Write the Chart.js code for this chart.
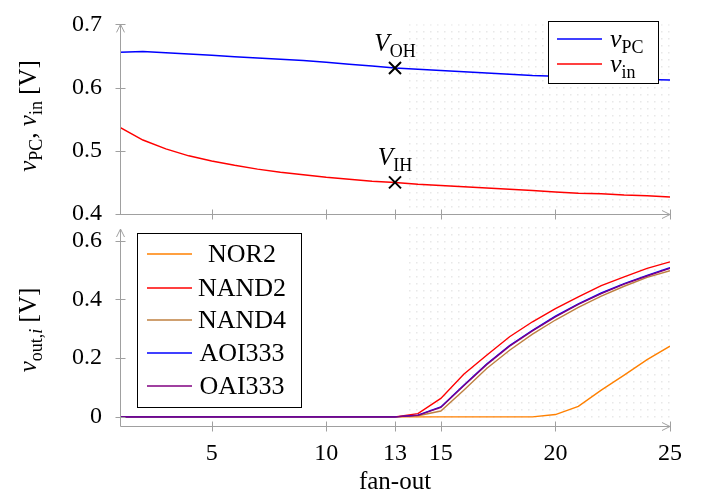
<!DOCTYPE html>
<html>
<head>
<meta charset="utf-8">
<script src="https://cdn.jsdelivr.net/npm/chart.js@4.4.0/dist/chart.umd.min.js"></script>
<style>
  html, body { margin: 0; padding: 0; background: #fff; }
  #wrap { position: relative; width: 702px; height: 498px; }
  #wrap canvas { position: absolute; left: 0; top: 0; }
</style>
</head>
<body>
<div id="wrap">
  <canvas id="bottomChart" width="702" height="498"></canvas>
  <canvas id="topChart" width="702" height="498"></canvas>
</div>
<script>
// Datos
const fanOut = [1, 2, 3, 4, 5, 6, 7, 8, 9, 10, 11, 12, 13, 14, 15, 16, 17, 18, 19, 20, 21, 22, 23, 24, 25];

const vPC = [0.656, 0.657, 0.655, 0.653, 0.651, 0.649, 0.647, 0.645, 0.643, 0.640, 0.637, 0.634, 0.631,
             0.629, 0.627, 0.625, 0.623, 0.621, 0.619, 0.618, 0.617, 0.616, 0.614, 0.613, 0.612];
const vIn = [0.537, 0.517, 0.503, 0.492, 0.484, 0.477, 0.471, 0.466, 0.462, 0.458, 0.455, 0.452, 0.450,
             0.447, 0.445, 0.443, 0.441, 0.439, 0.437, 0.435, 0.433, 0.432, 0.430, 0.429, 0.427];

const nor2   = [0, 0, 0, 0, 0, 0, 0, 0, 0, 0, 0, 0, 0, 0, 0, 0, 0, 0, 0, 0.008, 0.036, 0.091, 0.142, 0.195, 0.241];
const nand2  = [0, 0, 0, 0, 0, 0, 0, 0, 0, 0, 0, 0, 0, 0.011, 0.063, 0.145, 0.210, 0.273, 0.324, 0.369, 0.409, 0.447, 0.477, 0.506, 0.528];
const nand4  = [0, 0, 0, 0, 0, 0, 0, 0, 0, 0, 0, 0, 0, 0.004, 0.020, 0.091, 0.165, 0.227, 0.282, 0.330, 0.373, 0.411, 0.445, 0.475, 0.498];
const aoi333 = [0, 0, 0, 0, 0, 0, 0, 0, 0, 0, 0, 0, 0, 0.006, 0.034, 0.108, 0.180, 0.243, 0.295, 0.343, 0.385, 0.422, 0.454, 0.482, 0.508];
const oai333 = [0, 0, 0, 0, 0, 0, 0, 0, 0, 0, 0, 0, 0, 0.005, 0.032, 0.106, 0.178, 0.241, 0.293, 0.341, 0.383, 0.420, 0.452, 0.480, 0.506];

// Ejes y marcas
const xTicks = [5, 10, 13, 15, 20, 25];
const xTickLabels = ['5', '10', '13', '15', '20', '25'];
const yTopTicks = [0.4, 0.5, 0.6, 0.7];
const yTopTickLabels = ['0.4', '0.5', '0.6', '0.7'];
const yBottomTicks = [0, 0.2, 0.4, 0.6];
const yBottomTickLabels = ['0', '0.2', '0.4', '0.6'];

// Punto marcado (fan-out = 13) y zona sombreada
const markFanOut = 13;
const markSubs = ['OH', 'IH'];
const shadeFrom = 13.5;
const shadeTo = 25;

const SERIF = "'Liberation Serif', 'Times New Roman', serif";
const AXIS_COLOR = '#a0a0a0';

Chart.defaults.font.family = SERIF;
Chart.defaults.color = '#000';

function toPoints(values) {
    return fanOut.map((f, i) => ({ x: f, y: values[i] }));
}

// Patrón de puntos para la zona sombreada
function makeDotPattern(ctx) {
    const c = document.createElement('canvas');
    c.width = 7; c.height = 7;
    const g = c.getContext('2d');
    g.fillStyle = '#e8e8e8';
    g.fillRect(3, 3, 1.5, 1.5);
    return ctx.createPattern(c, 'repeat');
}

// Texto con subíndices: parts = [[texto, estilo]], estilo: 'r', 'i', 's' (sub), 'si' (sub itálica)
function partFont(style, size) {
    const sub = style === 's' || style === 'si';
    const italic = style === 'i' || style === 'si';
    const px = sub ? Math.round(size * 0.7) : size;
    return (italic ? 'italic ' : '') + px + 'px ' + SERIF;
}
function richWidth(ctx, parts, size) {
    let w = 0;
    parts.forEach(([t, s]) => { ctx.font = partFont(s, size); w += ctx.measureText(t).width; });
    return w;
}
function drawRich(ctx, parts, x, y, size) {
    ctx.textBaseline = 'alphabetic';
    ctx.textAlign = 'left';
    let cx = x;
    parts.forEach(([t, s]) => {
        ctx.font = partFont(s, size);
        const dy = (s === 's' || s === 'si') ? size * 0.22 : 0;
        ctx.fillText(t, cx, y + dy);
        cx += ctx.measureText(t).width;
    });
}

// Dibuja ejes con flechas y marcas que cruzan el eje
function axesPlugin(yTickValues) {
    return {
        id: 'axes',
        afterDraw(chart) {
            const { ctx, chartArea: a, scales } = chart;
            const L = Math.round(a.left) + 0.5;
            const B = Math.round(a.bottom) + 0.5;
            ctx.save();
            ctx.strokeStyle = AXIS_COLOR;
            ctx.lineWidth = 1;
            ctx.beginPath();
            ctx.moveTo(L, B); ctx.lineTo(a.right, B);
            ctx.moveTo(L, B); ctx.lineTo(L, a.top);
            xTicks.forEach(v => {
                const px = Math.round(scales.x.getPixelForValue(v)) + 0.5;
                ctx.moveTo(px, B - 5); ctx.lineTo(px, B + 5);
            });
            yTickValues.forEach(v => {
                const py = Math.round(scales.y.getPixelForValue(v)) + 0.5;
                ctx.moveTo(L - 5, py); ctx.lineTo(L + 5, py);
            });
            ctx.stroke();
            // flechas
            ctx.beginPath();
            ctx.moveTo(a.right - 8, B - 4); ctx.lineTo(a.right, B); ctx.lineTo(a.right - 8, B + 4);
            ctx.moveTo(L - 4, a.top + 8); ctx.lineTo(L, a.top); ctx.lineTo(L + 4, a.top + 8);
            ctx.stroke();
            ctx.restore();
        }
    };
}

function shadePlugin(top, bottom) {
    return {
        id: 'shade',
        beforeDatasetsDraw(chart) {
            const { ctx, scales } = chart;
            const x0 = scales.x.getPixelForValue(shadeFrom);
            const x1 = scales.x.getPixelForValue(shadeTo);
            ctx.save();
            ctx.fillStyle = makeDotPattern(ctx);
            ctx.fillRect(x0, top(chart), x1 - x0, bottom(chart) - top(chart));
            ctx.restore();
        }
    };
}

// Leyenda dentro del área del gráfico
function legendPlugin(box, rows, lineX, textX, centered, labelParts) {
    return {
        id: 'innerLegend',
        afterDatasetsDraw(chart) {
            const { ctx } = chart;
            const sets = chart.data.datasets.filter(d => !d.isMarker);
            ctx.save();
            ctx.fillStyle = '#fff';
            ctx.fillRect(box.x, box.y, box.w, box.h);
            ctx.strokeStyle = '#000';
            ctx.lineWidth = 1;
            ctx.strokeRect(box.x + 0.5, box.y + 0.5, box.w, box.h);
            sets.forEach((d, i) => {
                const y = rows[i];
                ctx.strokeStyle = d.borderColor;
                ctx.lineWidth = 1.5;
                ctx.beginPath();
                ctx.moveTo(lineX[0], y); ctx.lineTo(lineX[1], y);
                ctx.stroke();
                ctx.fillStyle = '#000';
                const parts = labelParts ? labelParts[i] : [[d.label, 'r']];
                const size = 26;
                const w = richWidth(ctx, parts, size);
                const x = centered ? textX - w / 2 : textX;
                drawRich(ctx, parts, x, y + 8, size);
            });
            ctx.restore();
        }
    };
}

function yTitlePlugin(parts, cx, cy) {
    return {
        id: 'yTitle',
        afterDraw(chart) {
            const { ctx } = chart;
            ctx.save();
            ctx.fillStyle = '#000';
            ctx.translate(cx, cy);
            ctx.rotate(-Math.PI / 2);
            const w = richWidth(ctx, parts, 25);
            drawRich(ctx, parts, -w / 2, 8, 25);
            ctx.restore();
        }
    };
}

const markerLabelPlugin = {
    id: 'markerLabels',
    afterDatasetsDraw(chart) {
        const { ctx } = chart;
        const meta = chart.getDatasetMeta(chart.data.datasets.findIndex(d => d.isMarker));
        ctx.save();
        ctx.fillStyle = '#000';
        meta.data.forEach((pt, i) => {
            const parts = [['V', 'i'], [markSubs[i], 's']];
            const w = richWidth(ctx, parts, 25);
            drawRich(ctx, parts, pt.x - w / 2, pt.y - 17, 25);
        });
        ctx.restore();
    }
};

function xScale(showLabels, height) {
    return {
        type: 'linear',
        min: 1,
        max: 25,
        grid: { display: false },
        border: { display: false },
        afterBuildTicks: s => { s.ticks = xTicks.map(v => ({ value: v })); },
        afterFit: s => { s.height = height; },
        ticks: {
            display: showLabels,
            padding: 5,
            color: '#000',
            font: { family: SERIF, size: 24 },
            callback: (v, i) => xTickLabels[i]
        },
        title: {
            display: showLabels,
            text: 'fan-out',
            color: '#000',
            font: { family: SERIF, size: 25 },
            padding: { top: 0, bottom: 1 }
        }
    };
}

function yScale(min, max, ticks, labels) {
    return {
        type: 'linear',
        min: min,
        max: max,
        grid: { display: false },
        border: { display: false },
        afterBuildTicks: s => { s.ticks = ticks.map(v => ({ value: v })); },
        afterFit: s => { s.width = 120; },
        ticks: {
            padding: 10,
            color: '#000',
            font: { family: SERIF, size: 24 },
            callback: (v, i) => labels[i]
        }
    };
}

const commonOptions = {
    responsive: false,
    animation: false,
    events: [],
    plugins: { legend: { display: false }, tooltip: { enabled: false } },
    elements: { point: { radius: 0 }, line: { tension: 0 } }
};

const markIdx = fanOut.indexOf(markFanOut);

// Gráfico superior: v_PC y v_in
new Chart(document.getElementById('topChart'), {
    type: 'line',
    data: {
        datasets: [
            { label: 'v_PC', data: toPoints(vPC), borderColor: '#0000ff', borderWidth: 1.5, order: 2 },
            { label: 'v_in', data: toPoints(vIn), borderColor: '#ff0000', borderWidth: 1.5, order: 3 },
            {
                isMarker: true,
                type: 'scatter',
                data: [{ x: markFanOut, y: vPC[markIdx] }, { x: markFanOut, y: vIn[markIdx] }],
                pointStyle: 'crossRot',
                pointRadius: 8.5,
                borderColor: '#000',
                borderWidth: 2,
                showLine: false,
                order: 0
            }
        ]
    },
    options: {
        ...commonOptions,
        layout: { padding: { top: 16, right: 32, left: 0, bottom: 0 } },
        scales: {
            x: xScale(false, 284),
            y: yScale(0.4, 0.7, yTopTicks, yTopTickLabels)
        }
    },
    plugins: [
        shadePlugin(c => c.chartArea.top, c => c.chartArea.bottom - 6),
        axesPlugin(yTopTicks),
        markerLabelPlugin,
        legendPlugin({ x: 548, y: 21, w: 110, h: 62 }, [39, 64], [557, 602], 610, false,
            [[['v', 'i'], ['PC', 's']], [['v', 'i'], ['in', 's']]]),
        yTitlePlugin([['v', 'i'], ['PC', 's'], [', ', 'r'], ['v', 'i'], ['in', 's'], [' [V]', 'r']], 28, 116)
    ]
});

// Gráfico inferior: v_out,i
const gateSeries = [
    { label: 'NOR2', values: nor2, color: '#ff8000' },
    { label: 'NAND2', values: nand2, color: '#ff0000' },
    { label: 'NAND4', values: nand4, color: '#bf8040' },
    { label: 'AOI333', values: aoi333, color: '#0000ff' },
    { label: 'OAI333', values: oai333, color: '#800080' }
];

new Chart(document.getElementById('bottomChart'), {
    type: 'line',
    data: {
        datasets: gateSeries.map((g, i) => ({
            label: g.label,
            data: toPoints(g.values),
            borderColor: g.color,
            borderWidth: 1.4,
            order: gateSeries.length - i
        }))
    },
    options: {
        ...commonOptions,
        layout: { padding: { top: 229, right: 32, left: 0, bottom: 0 } },
        scales: {
            x: xScale(true, 72),
            y: yScale(-0.031, 0.64, yBottomTicks, yBottomTickLabels)
        }
    },
    plugins: [
        shadePlugin(c => c.chartArea.top - 4, c => c.chartArea.bottom - 6),
        axesPlugin(yBottomTicks),
        legendPlugin({ x: 137, y: 233, w: 164, h: 174 }, [254, 288, 320, 353, 386], [147, 192], 242, true, null),
        yTitlePlugin([['v', 'i'], ['out,', 's'], ['i', 'si'], [' [V]', 'r']], 28, 330)
    ]
});
</script>
</body>
</html>
